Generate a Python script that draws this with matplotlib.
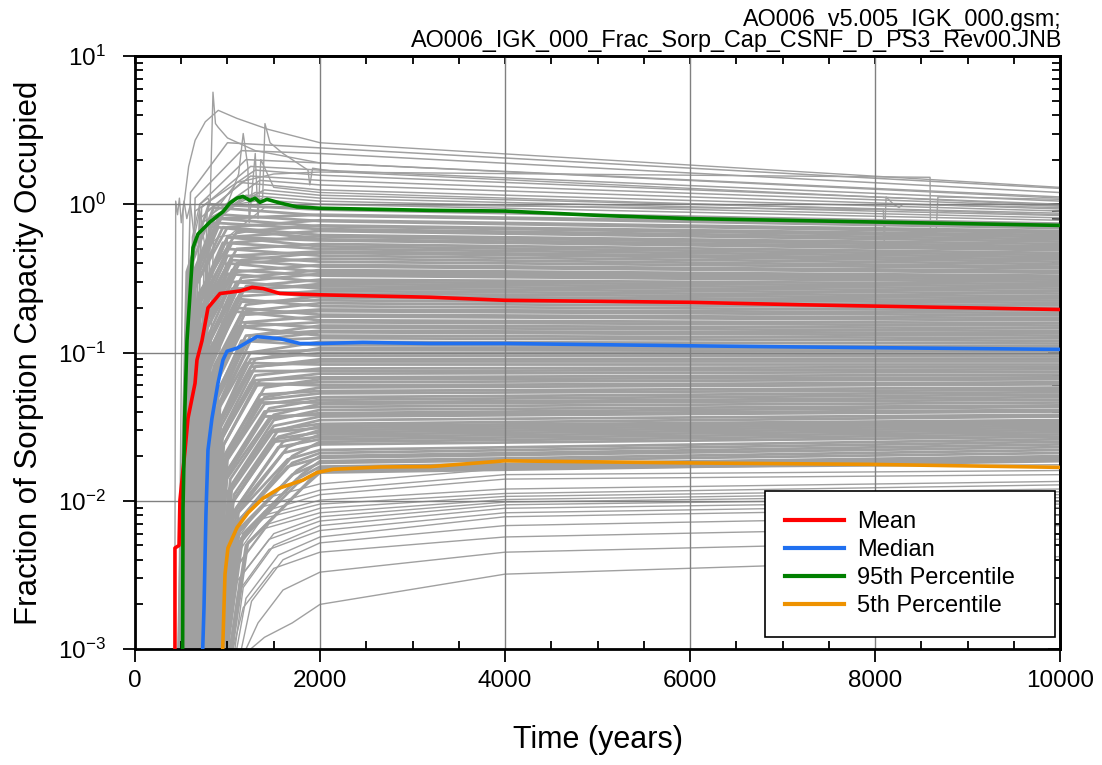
import matplotlib
matplotlib.use("Agg")
import matplotlib.pyplot as plt
from matplotlib.ticker import LogLocator, MultipleLocator, NullFormatter

plt.rcParams['font.family'] = ['Liberation Sans', 'DejaVu Sans']
plt.rcParams['mathtext.fontset'] = 'custom'
plt.rcParams['mathtext.rm'] = 'Liberation Sans'
plt.rcParams['mathtext.default'] = 'regular'

# ---- statistics curves (time in years, fraction occupied) ----
mean_t = [432, 432, 476, 486, 540, 573, 649, 670, 724, 789, 919, 1135, 1265, 1384, 1567,
          2000, 3190, 4000, 6000, 7190, 10000]
mean_v = [0.001, 0.0048, 0.0050, 0.0101, 0.0216, 0.036, 0.062, 0.089, 0.12, 0.20, 0.25,
          0.26, 0.275, 0.27, 0.25, 0.245, 0.236, 0.225, 0.218, 0.21, 0.195]

median_t = [732, 746, 767, 789, 832, 897, 951, 995, 1103, 1319, 1567, 1784, 2000, 2465,
            3190, 4000, 6000, 7190, 10000]
median_v = [0.001, 0.0019, 0.0081, 0.022, 0.036, 0.062, 0.089, 0.102, 0.107, 0.128, 0.124,
            0.115, 0.115, 0.117, 0.115, 0.115, 0.111, 0.109, 0.105]

p95_t = [515, 519, 540, 562, 595, 627, 681, 811, 951, 1027, 1103, 1167, 1243, 1297, 1351,
         1427, 1567, 1751, 2000, 3190, 4000, 5030, 6000, 7950, 10000]
p95_v = [0.001, 0.0089, 0.043, 0.12, 0.25, 0.51, 0.63, 0.76, 0.89, 1.02, 1.10, 1.13, 1.06,
         1.10, 1.03, 1.08, 1.02, 0.96, 0.94, 0.91, 0.90, 0.84, 0.80, 0.76, 0.72]

p05_t = [948, 973, 1005, 1103, 1222, 1384, 1567, 1816, 1967, 2140, 2648, 3190, 4000, 6000,
         7950, 10000]
p05_v = [0.001, 0.0032, 0.0048, 0.0066, 0.0083, 0.0104, 0.0122, 0.0138, 0.0155, 0.0163,
         0.0169, 0.017, 0.0186, 0.018, 0.0176, 0.0168]

# ---- realizations: upper group ----
up_t0 = [480, 520, 560, 600, 500, 650, 700, 540, 620, 580, 680, 750]
up_tm = [600, 650, 700, 720, 650, 780, 820, 700, 800, 720, 800, 850]
up_vm = [1.2, 1.1, 1.0, 0.95, 0.9, 0.9, 0.85, 0.8, 0.8, 0.75, 0.75, 0.7]
up_t1 = [1000, 1150, 1200, 1250, 1300, 1250, 1350, 1150, 1400, 1300, 1200, 1100]
up_v1 = [2.6, 2.3, 2.0, 1.8, 1.7, 1.55, 1.45, 1.4, 1.25, 1.2, 1.15, 1.1]
up_v2k = [2.4, 2.2, 1.9, 1.7, 1.57, 1.45, 1.35, 1.25, 1.15, 1.1, 1.05, 1.0]
up_v10k = [1.28, 1.2, 1.12, 1.05, 1.0, 0.97, 0.93, 0.9, 0.87, 0.84, 0.81, 0.78]

# ---- realizations: main band ----
band_t0 = [470, 520, 490, 560, 510, 600, 540, 480, 580, 530,
           620, 500, 560, 650, 590, 540, 610, 680, 570, 630,
           550, 640, 600, 700, 580, 660, 620, 720, 560, 690,
           640, 600, 700, 660, 740, 620, 680, 760, 650, 710,
           700, 660, 750, 630, 720, 780, 690, 740, 800, 670,
           720, 760, 690, 800, 740, 780, 710, 820, 760, 740,
           780, 730, 820, 760, 850, 790, 740, 860, 800, 830,
           800, 850, 770, 880, 820, 900, 840, 790, 870, 920,
           850, 900, 820, 940, 880, 960, 860, 910, 980, 890,
           880, 920, 960, 900, 1000, 940, 980, 1050, 960, 1030]
band_ta = [560, 610, 580, 650, 600, 690, 630, 570, 670, 620,
           710, 600, 650, 740, 680, 640, 700, 770, 670, 720,
           650, 740, 700, 800, 680, 760, 720, 820, 660, 790,
           750, 710, 810, 770, 850, 730, 790, 870, 760, 820,
           820, 780, 870, 750, 840, 900, 810, 860, 920, 790,
           850, 890, 820, 930, 870, 910, 840, 950, 890, 870,
           920, 870, 960, 900, 990, 930, 880, 1000, 940, 970,
           950, 1000, 920, 1030, 970, 1050, 990, 940, 1020, 1070,
           1010, 1060, 980, 1100, 1040, 1120, 1020, 1070, 1140, 1050,
           1050, 1090, 1130, 1070, 1170, 1110, 1150, 1220, 1130, 1200]
band_va = [0.35, 0.3, 0.35, 0.28, 0.3, 0.25, 0.3, 0.28, 0.22, 0.25,
           0.22, 0.25, 0.2, 0.2, 0.2, 0.2, 0.17, 0.16, 0.17, 0.15,
           0.15, 0.13, 0.14, 0.12, 0.13, 0.11, 0.12, 0.1, 0.11, 0.1,
           0.1, 0.1, 0.09, 0.09, 0.08, 0.09, 0.08, 0.07, 0.08, 0.07,
           0.065, 0.07, 0.06, 0.065, 0.055, 0.05, 0.055, 0.05, 0.045, 0.05,
           0.045, 0.04, 0.042, 0.035, 0.038, 0.034, 0.036, 0.03, 0.031, 0.03,
           0.027, 0.027, 0.024, 0.024, 0.021, 0.022, 0.022, 0.019, 0.019, 0.018,
           0.017, 0.016, 0.017, 0.014, 0.015, 0.013, 0.014, 0.013, 0.012, 0.011,
           0.011, 0.01, 0.011, 0.009, 0.0095, 0.0085, 0.009, 0.0085, 0.0075, 0.008,
           0.0075, 0.007, 0.0065, 0.0068, 0.006, 0.006, 0.0056, 0.0052, 0.0053, 0.005]
band_t1 = [800, 900, 850, 1000, 950, 1100, 900, 850, 1000, 950,
           1050, 900, 1000, 1100, 1000, 950, 1050, 1150, 1000, 1100,
           1000, 1100, 1050, 1150, 1000, 1100, 1050, 1200, 1000, 1150,
           1100, 1050, 1150, 1100, 1200, 1050, 1150, 1200, 1100, 1150,
           1150, 1100, 1200, 1050, 1150, 1250, 1150, 1200, 1250, 1100,
           1200, 1250, 1150, 1300, 1200, 1250, 1150, 1300, 1250, 1200,
           1300, 1250, 1350, 1300, 1400, 1300, 1250, 1400, 1350, 1350,
           1400, 1450, 1350, 1500, 1400, 1500, 1450, 1400, 1500, 1550,
           1500, 1550, 1450, 1600, 1500, 1650, 1500, 1550, 1700, 1600,
           1650, 1700, 1750, 1650, 1800, 1700, 1750, 1850, 1750, 1800]
band_v1 = [1.0, 0.8, 0.95, 0.7, 0.85, 0.65, 0.8, 0.75, 0.6, 0.7,
           0.55, 0.7, 0.6, 0.5, 0.6, 0.55, 0.45, 0.42, 0.5, 0.4,
           0.45, 0.35, 0.42, 0.32, 0.4, 0.3, 0.36, 0.28, 0.34, 0.26,
           0.27, 0.3, 0.24, 0.26, 0.21, 0.27, 0.22, 0.19, 0.23, 0.18,
           0.18, 0.2, 0.16, 0.19, 0.15, 0.13, 0.16, 0.13, 0.12, 0.15,
           0.12, 0.1, 0.12, 0.09, 0.1, 0.09, 0.1, 0.08, 0.08, 0.085,
           0.07, 0.075, 0.065, 0.065, 0.058, 0.06, 0.062, 0.05, 0.052, 0.048,
           0.045, 0.042, 0.046, 0.038, 0.04, 0.035, 0.036, 0.037, 0.032, 0.03,
           0.03, 0.027, 0.029, 0.025, 0.026, 0.023, 0.025, 0.023, 0.02, 0.021,
           0.019, 0.018, 0.016, 0.017, 0.015, 0.015, 0.014, 0.013, 0.013, 0.012]
band_v2k = [0.92, 0.85, 0.84, 0.78, 0.77, 0.72, 0.71, 0.68, 0.66, 0.62,
            0.61, 0.58, 0.57, 0.54, 0.52, 0.50, 0.48, 0.47, 0.45, 0.43,
            0.41, 0.39, 0.38, 0.36, 0.35, 0.34, 0.33, 0.31, 0.30, 0.29,
            0.28, 0.27, 0.26, 0.25, 0.24, 0.235, 0.225, 0.215, 0.205, 0.195,
            0.19, 0.18, 0.175, 0.165, 0.16, 0.152, 0.147, 0.14, 0.137, 0.13,
            0.125, 0.118, 0.112, 0.107, 0.104, 0.099, 0.095, 0.09, 0.087, 0.083,
            0.078, 0.075, 0.072, 0.068, 0.066, 0.063, 0.06, 0.058, 0.055, 0.053,
            0.05, 0.048, 0.046, 0.045, 0.043, 0.041, 0.039, 0.038, 0.037, 0.035,
            0.033, 0.032, 0.031, 0.03, 0.029, 0.028, 0.027, 0.026, 0.025, 0.024,
            0.022, 0.021, 0.02, 0.0195, 0.0185, 0.018, 0.017, 0.0165, 0.016, 0.0155]
band_v10k = [0.74, 0.71, 0.69, 0.66, 0.64, 0.62, 0.60, 0.58, 0.56, 0.54,
             0.52, 0.505, 0.49, 0.47, 0.455, 0.44, 0.425, 0.41, 0.395, 0.38,
             0.37, 0.355, 0.345, 0.33, 0.32, 0.31, 0.30, 0.29, 0.28, 0.27,
             0.26, 0.25, 0.24, 0.232, 0.224, 0.216, 0.208, 0.20, 0.192, 0.185,
             0.178, 0.171, 0.165, 0.158, 0.152, 0.146, 0.14, 0.135, 0.13, 0.125,
             0.12, 0.115, 0.11, 0.106, 0.102, 0.098, 0.094, 0.09, 0.087, 0.083,
             0.08, 0.077, 0.074, 0.071, 0.068, 0.066, 0.063, 0.061, 0.058, 0.056,
             0.054, 0.052, 0.05, 0.048, 0.046, 0.044, 0.043, 0.041, 0.04, 0.038,
             0.037, 0.035, 0.034, 0.033, 0.032, 0.031, 0.030, 0.029, 0.028, 0.027,
             0.026, 0.025, 0.024, 0.023, 0.022, 0.021, 0.020, 0.0195, 0.019, 0.0185]

# ---- realizations: slow low group ----
low_t0 = [880, 920, 950, 980, 900, 1000, 960, 1040, 1000, 1080, 1020, 1100, 1150, 1060, 1200, 1250]
low_ta = [960, 1000, 1030, 1060, 980, 1090, 1050, 1130, 1090, 1170, 1110, 1200, 1260, 1170, 1330, 1400]
low_va = [0.005, 0.0045, 0.0042, 0.004, 0.0038, 0.0035, 0.0033, 0.003, 0.0028, 0.0026,
          0.0024, 0.0022, 0.0021, 0.0019, 0.0015, 0.0012]
low_t1 = [1300, 1350, 1400, 1400, 1350, 1450, 1400, 1500, 1450, 1500, 1450, 1550, 1600, 1500, 1600, 1700]
low_v1 = [0.010, 0.009, 0.0085, 0.008, 0.0075, 0.007, 0.0065, 0.006, 0.0055, 0.005,
          0.0047, 0.0043, 0.004, 0.0035, 0.0025, 0.0015]
low_v2k = [0.013, 0.0118, 0.011, 0.0101, 0.0095, 0.0089, 0.0083, 0.0078, 0.0073, 0.0068,
           0.0063, 0.0057, 0.0052, 0.0045, 0.0033, 0.0020]
low_v4k = [0.0165, 0.015, 0.014, 0.012, 0.0112, 0.0107, 0.0102, 0.0098, 0.0094, 0.0089,
           0.0083, 0.0078, 0.0068, 0.0057, 0.0045, 0.0032]
low_v10k = [0.0175, 0.016, 0.015, 0.0135, 0.0128, 0.012, 0.0115, 0.011, 0.0105, 0.0100,
            0.0095, 0.009, 0.008, 0.0068, 0.0055, 0.0042]

# ---- individual irregular realizations ----
arc_t = [470, 520, 580, 650, 760, 900, 1100, 1440, 2000, 10000]
arc_v = [0.001, 0.9, 1.8, 2.7, 3.6, 4.3, 3.8, 3.2, 2.6, 1.3]
spike1_t = [560, 620, 700, 790, 812, 843, 870, 900, 1000, 1300, 2000, 10000]
spike1_v = [0.001, 0.6, 1.0, 1.1, 1.0, 5.7, 3.5, 3.3, 2.8, 2.3, 1.9, 1.1]
spike2_t = [640, 750, 900, 1100, 1300, 1380, 1405, 1460, 1600, 1870, 1890, 1920, 2200, 10000]
spike2_v = [0.001, 0.5, 0.8, 1.0, 1.05, 1.1, 3.5, 2.6, 2.2, 1.7, 1.35, 1.75, 1.65, 0.98]
spike3_t = [600, 800, 1000, 1120, 1170, 1220, 1235, 1300, 1330, 1360, 1500, 2000, 10000]
spike3_v = [0.001, 0.7, 1.0, 1.6, 3.0, 1.8, 0.75, 2.2, 0.8, 2.0, 1.3, 1.2, 0.85]
jag_t = [430, 440, 460, 480, 500, 530, 560, 600, 640, 700, 760, 900, 1200, 2000, 10000]
jag_v = [0.001, 1.05, 0.85, 1.1, 0.75, 1.05, 0.8, 1.0, 0.6, 0.9, 0.5, 0.6, 0.65, 0.6, 0.5]
step_t = [620, 800, 1100, 1500, 2000, 6000, 8595, 8600, 8660, 8680, 10000]
step_v = [0.001, 0.8, 1.4, 1.6, 1.65, 1.57, 1.52, 0.63, 0.63, 1.12, 1.08]
blip_t = [700, 1000, 1400, 2000, 8090, 8100, 8120, 8200, 8260, 8300, 10000]
blip_v = [0.001, 0.6, 0.95, 1.0, 0.92, 0.55, 1.12, 1.0, 0.95, 1.0, 0.95]

legend_labels = ["Mean", "Median", "95th Percentile", "5th Percentile"]
title_lines = ["AO006_v5.005_IGK_000.gsm;", "AO006_IGK_000_Frac_Sorp_Cap_CSNF_D_PS3_Rev00.JNB"]

GRAY = '#a0a0a0'

fig = plt.figure(figsize=(11.02, 7.65), dpi=100)
ax = fig.add_axes([0.1225, 0.1516, 0.8394, 0.7752])

def gray(t, v, lw=1.0):
    ax.plot(t, v, color=GRAY, lw=lw, zorder=1)

for i in range(len(up_t0)):
    gray([up_t0[i], up_tm[i], up_t1[i], 2000, 10000],
         [0.001, up_vm[i], up_v1[i], up_v2k[i], up_v10k[i]], lw=1.1)
for i in range(len(band_t0)):
    gray([band_t0[i], band_ta[i], band_t1[i], 2000, 10000],
         [0.001, band_va[i], band_v1[i], band_v2k[i], band_v10k[i]], lw=2.0)
for i in range(len(low_t0)):
    gray([low_t0[i], low_ta[i], low_t1[i], 2000, 4000, 10000],
         [0.001, low_va[i], low_v1[i], low_v2k[i], low_v4k[i], low_v10k[i]])
for t, v in [(arc_t, arc_v), (spike1_t, spike1_v), (spike2_t, spike2_v),
             (spike3_t, spike3_v), (jag_t, jag_v), (step_t, step_v), (blip_t, blip_v)]:
    gray(t, v)

ax.plot(mean_t, mean_v, color='#ff0000', lw=2.6, zorder=3, label=legend_labels[0])
ax.plot(median_t, median_v, color='#2070f0', lw=2.6, zorder=3, label=legend_labels[1])
ax.plot(p95_t, p95_v, color='#008000', lw=2.6, zorder=3, label=legend_labels[2])
ax.plot(p05_t, p05_v, color='#ee9200', lw=2.6, zorder=3, label=legend_labels[3])

ax.set_yscale('log')
ax.set_xlim(0, 10000)
ax.set_ylim(1e-3, 10)
ax.set_axisbelow('line')
ax.grid(True, which='major', color='#808080', lw=1.0)

ax.xaxis.set_major_locator(MultipleLocator(2000))
ax.xaxis.set_minor_locator(MultipleLocator(500))
ax.yaxis.set_major_locator(LogLocator(base=10))
ax.yaxis.set_minor_locator(LogLocator(base=10, subs=range(2, 10)))
ax.yaxis.set_minor_formatter(NullFormatter())

ax.tick_params(which='major', direction='out', length=9, width=1.3, labelsize=17.5, color='black')
ax.tick_params(which='minor', direction='in', length=6, width=1.3)
ax.tick_params(axis='y', which='major', pad=12)
ax.tick_params(axis='x', which='major', pad=6)

for s in ax.spines.values():
    s.set_linewidth(2)

top = ax.secondary_xaxis('top')
top.set_xticks(range(0, 10001, 500))
top.set_xticklabels([])
top.tick_params(direction='in', length=6, width=1.3)
right = ax.secondary_yaxis('right')
right.yaxis.set_major_locator(LogLocator(base=10))
right.yaxis.set_minor_locator(LogLocator(base=10, subs=range(2, 10)))
right.yaxis.set_major_formatter(NullFormatter())
right.yaxis.set_minor_formatter(NullFormatter())
right.tick_params(which='major', direction='in', length=9, width=1.3)
right.tick_params(which='minor', direction='in', length=6, width=1.3)
for sec in (top, right):
    for s in sec.spines.values():
        s.set_linewidth(2)

ax.set_xlabel('Time (years)', fontsize=22, labelpad=24)
ax.set_ylabel('Fraction of Sorption Capacity Occupied', fontsize=22.5, labelpad=10)

leg = ax.legend(loc='lower left', bbox_to_anchor=(0.681, 0.0202, 0.3135, 0.2), mode='expand',
                borderaxespad=0, fontsize=17, handlelength=2.5, handletextpad=0.55,
                labelspacing=0.25, borderpad=0.85, fancybox=False, framealpha=1,
                edgecolor='black')
leg.get_frame().set_linewidth(1.2)
for h in leg.get_lines():
    h.set_linewidth(3)

fig.text(1062 / 1102, 1 - 26 / 765, title_lines[0], ha='right', va='baseline', fontsize=16.8)
fig.text(1062 / 1102, 1 - 47 / 765, title_lines[1], ha='right', va='baseline', fontsize=16.8)

fig.savefig('out.png', dpi=100)
